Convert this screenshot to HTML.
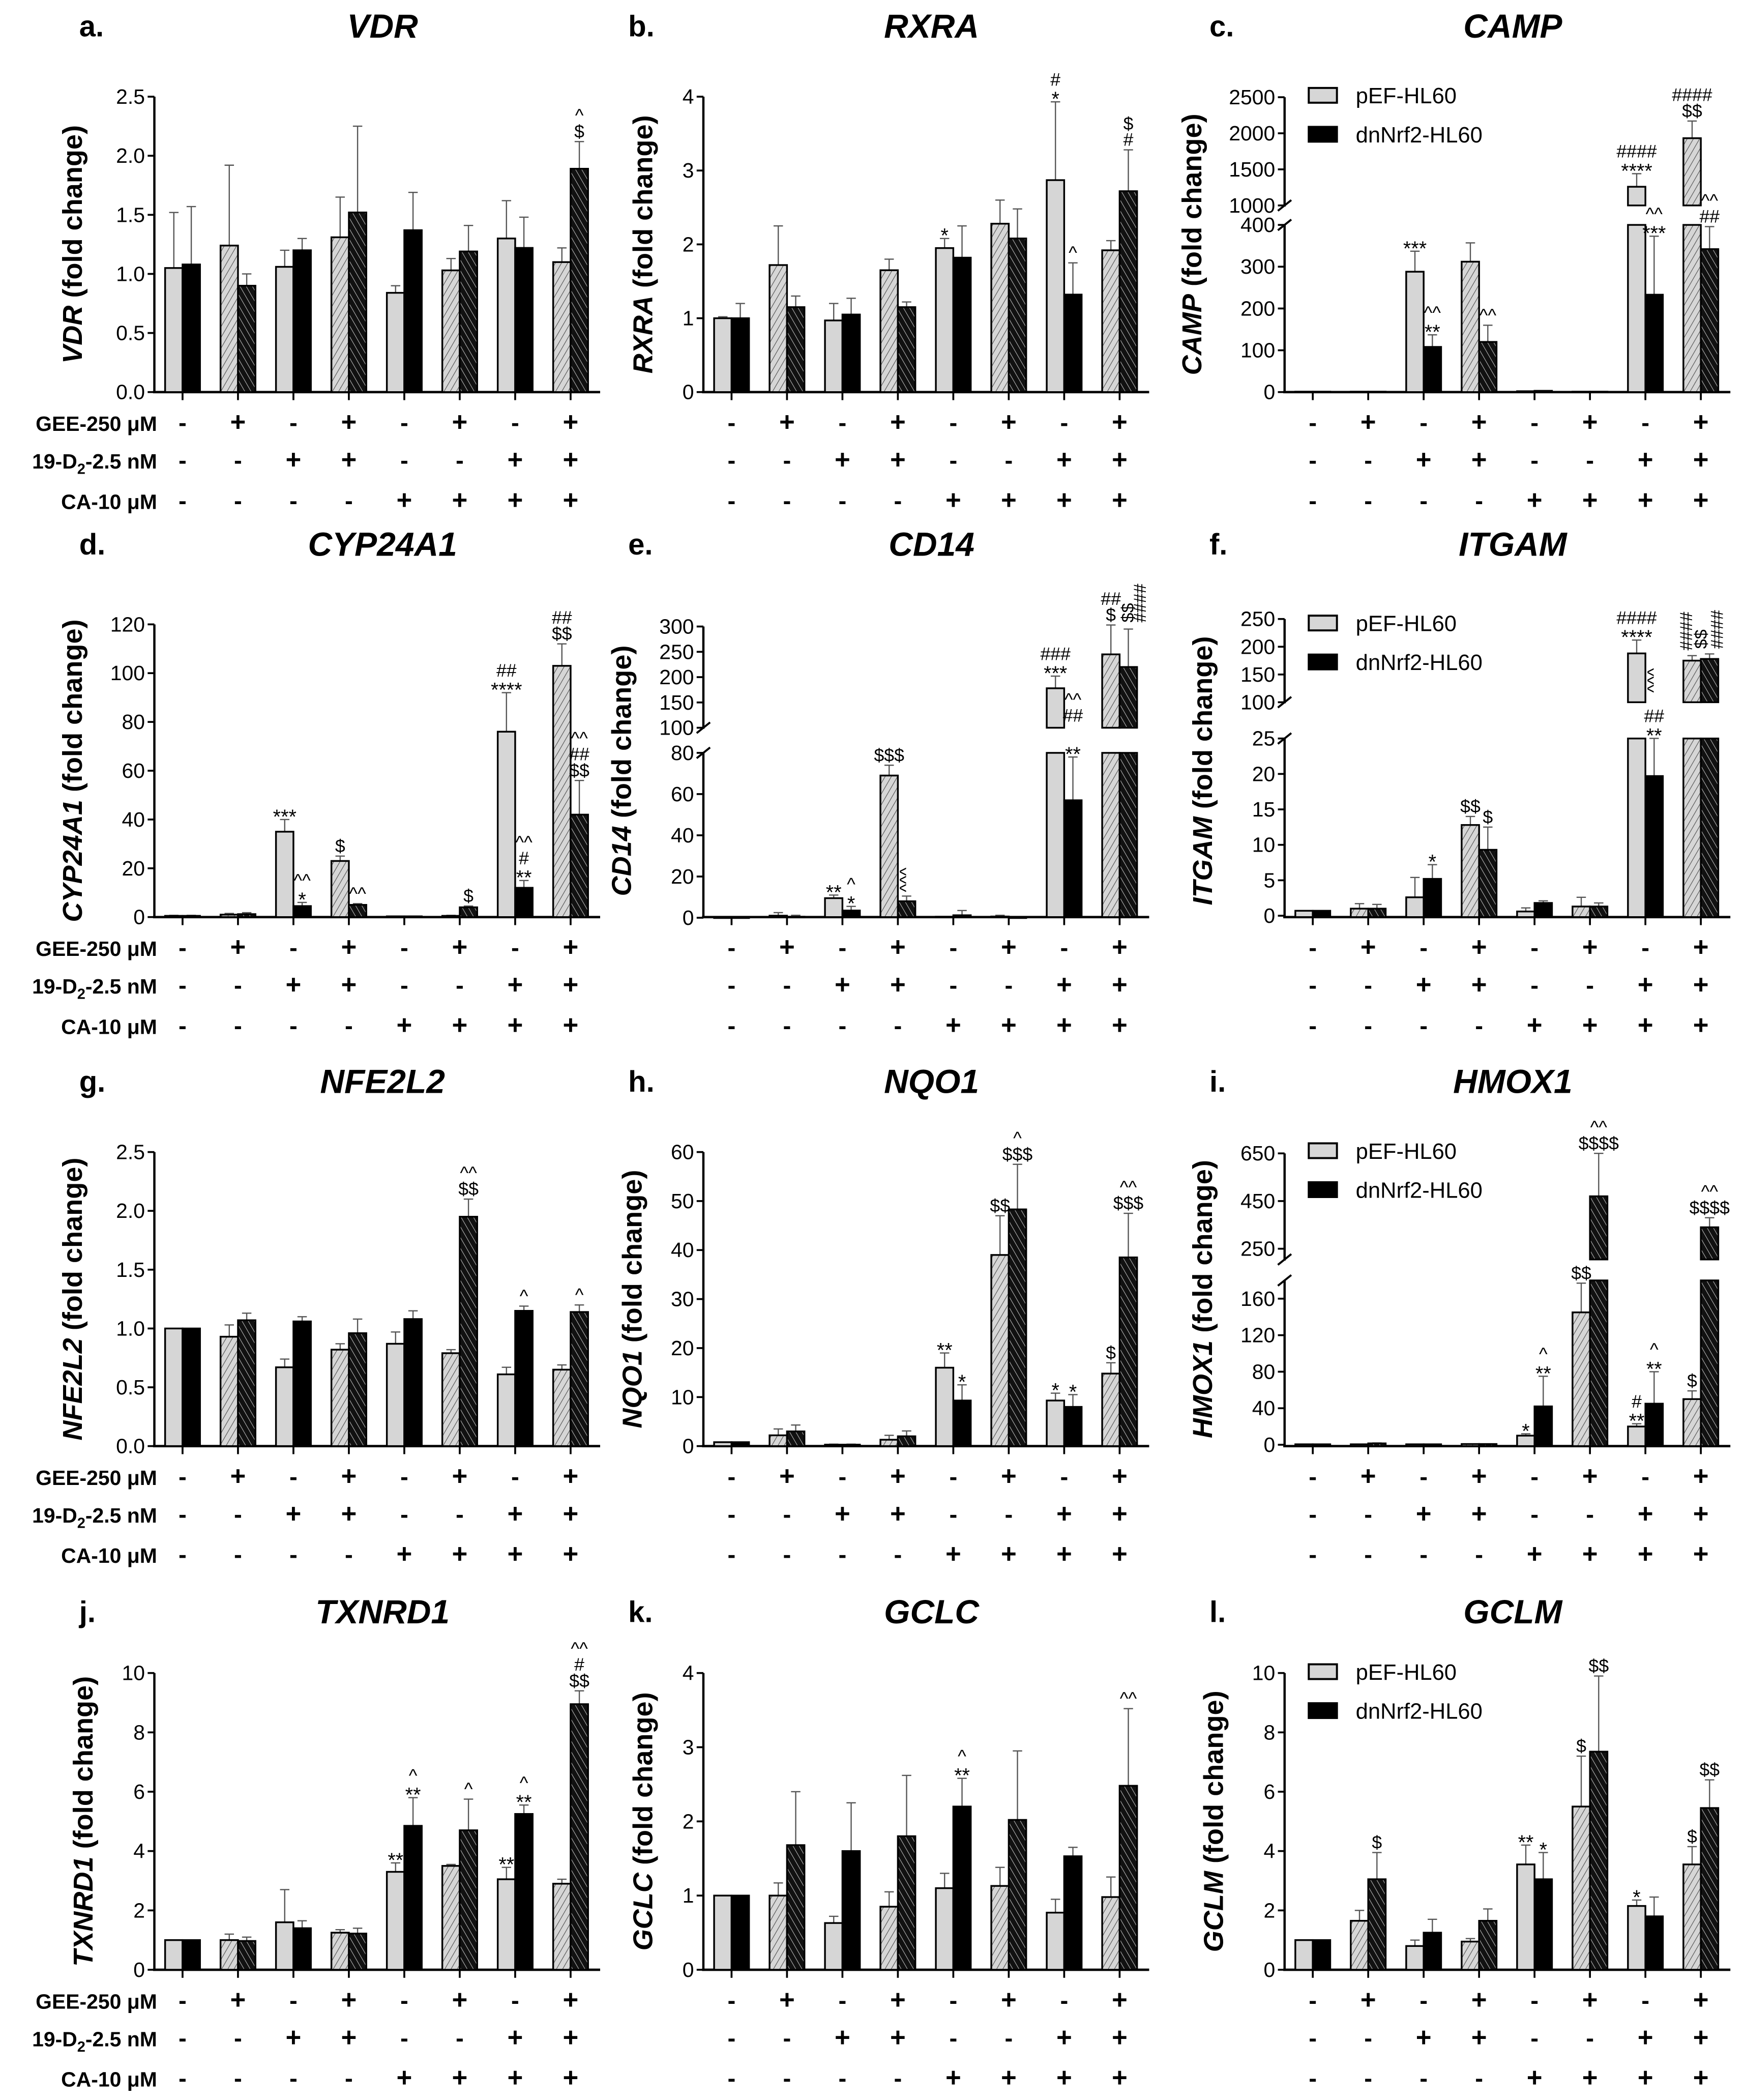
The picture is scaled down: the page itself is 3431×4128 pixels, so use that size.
<!DOCTYPE html>
<html><head><meta charset="utf-8"><title>Gene expression panels</title>
<style>
html,body{margin:0;padding:0;background:#fff;}
svg{display:block;}
text{font-family:"Liberation Sans",Arial,sans-serif;}
</style></head>
<body>
<svg id="fig" xmlns="http://www.w3.org/2000/svg" width="3431" height="4128" viewBox="0 0 1300 1564" preserveAspectRatio="none">
<defs>
<pattern id="hatchGray" patternUnits="userSpaceOnUse" width="4" height="4" patternTransform="rotate(30)">
<rect width="4" height="4" fill="#d6d6d6"/><line x1="0" y1="0" x2="0" y2="4" stroke="#555" stroke-width="0.9"/>
</pattern>
<pattern id="hatchBlack" patternUnits="userSpaceOnUse" width="4" height="4" patternTransform="rotate(-30)">
<rect width="4" height="4" fill="#111"/><line x1="0" y1="0" x2="0" y2="4" stroke="#bbb" stroke-width="0.8"/>
</pattern>
</defs>
<g id="root"></g>
</svg>
<script>
// ---- treatments ----
const geeSigns=["-","+","-","+","-","+","-","+"];
const d2Signs=["-","-","+","+","-","-","+","+"];
const caSigns=["-","-","-","-","+","+","+","+"];
const seriesNames=["pEF-HL60","dnNrf2-HL60"];

// ---- a VDR ----
const vdrGray=[1.05,1.24,1.06,1.31,0.84,1.03,1.30,1.10];
const vdrGrayErr=[1.52,1.92,1.20,1.65,0.90,1.13,1.62,1.22];
const vdrBlack=[1.08,0.90,1.20,1.52,1.37,1.19,1.22,1.89];
const vdrBlackErr=[1.57,1.00,1.30,2.25,1.69,1.41,1.48,2.12];
const vdrTicks=[0,0.5,1,1.5,2,2.5];
const vdrTickLabels=["0.0","0.5","1.0","1.5","2.0","2.5"];
// ---- b RXRA ----
const rxraGray=[1.0,1.72,0.97,1.65,1.95,2.28,2.87,1.92];
const rxraGrayErr=[1.02,2.25,1.2,1.8,2.08,2.6,3.93,2.05];
const rxraBlack=[1.0,1.15,1.05,1.15,1.82,2.08,1.32,2.72];
const rxraBlackErr=[1.2,1.3,1.27,1.22,2.25,2.48,1.75,3.28];
const rxraTicks=[0,1,2,3,4];
const rxraTickLabels=["0","1","2","3","4"];
// ---- c CAMP ----
const campGray=[1,1,288,312,2,1,1259,1932];
const campGrayErr=[1,1,337,357,2,1,1440,2170];
const campBlack=[1,1,108,120,3,1,233,342];
const campBlackErr=[1,1,137,160,3,1,373,396];
const campTicks=[0,100,200,300,400,1000,1500,2000,2500];
const campTickLabels=["0","100","200","300","400","1000","1500","2000","2500"];
// ---- d CYP24A1 ----
const cypGray=[0.5,1,35,23,0.3,0.5,76,103];
const cypGrayErr=[0.7,1.5,40,25,0.4,0.7,92,112];
const cypBlack=[0.5,1.2,4.5,5,0.3,4,12,42];
const cypBlackErr=[0.7,1.8,6,5.5,0.4,4.5,15,56];
const cypTicks=[0,20,40,60,80,100,120];
const cypTickLabels=["0","20","40","60","80","100","120"];
// ---- e CD14 ----
const cd14Gray=[0.2,1,9.5,69,0.5,0.6,178,245];
const cd14GrayErr=[0.2,2.5,11,74,0.5,1.2,202,303];
const cd14Black=[0.2,0.5,3.5,8,1.2,0.2,57,220];
const cd14BlackErr=[0.2,1.2,5.5,10.5,3.5,0.2,78,295];
const cd14Ticks=[0,20,40,60,80,100,150,200,250,300];
const cd14TickLabels=["0","20","40","60","80","100","150","200","250","300"];
// ---- f ITGAM ----
const itgGray=[0.7,1,2.6,12.8,0.6,1.3,188,175];
const itgGrayErr=[0.7,1.7,5.4,14,1.1,2.6,212,184];
const itgBlack=[0.7,1,5.2,9.3,1.8,1.3,19.7,178];
const itgBlackErr=[0.7,1.6,7.2,12.5,2.1,1.8,25.3,187];
const itgTicks=[0,5,10,15,20,25,100,150,200,250];
const itgTickLabels=["0","5","10","15","20","25","100","150","200","250"];
// ---- g NFE2L2 ----
const nfeGray=[1.0,0.93,0.67,0.82,0.87,0.79,0.61,0.65];
const nfeGrayErr=[1.0,1.03,0.74,0.87,0.97,0.82,0.67,0.69];
const nfeBlack=[1.0,1.07,1.06,0.96,1.08,1.95,1.15,1.14];
const nfeBlackErr=[1.0,1.13,1.1,1.08,1.15,2.1,1.19,1.2];
const nfeTicks=[0,0.5,1,1.5,2,2.5];
const nfeTickLabels=["0.0","0.5","1.0","1.5","2.0","2.5"];
// ---- h NQO1 ----
const nqoGray=[0.8,2.2,0.3,1.3,16,39,9.3,14.8];
const nqoGrayErr=[0.8,3.5,0.4,2.2,19,47,10.8,17];
const nqoBlack=[0.8,3,0.3,2,9.3,48.3,8,38.5];
const nqoBlackErr=[0.8,4.3,0.4,3.1,12.5,57.5,10.5,47.5];
const nqoTicks=[0,10,20,30,40,50,60];
const nqoTickLabels=["0","10","20","30","40","50","60"];
// ---- i HMOX1 ----
const hmoGray=[0.5,0.5,0.5,0.8,10,145,20,50];
const hmoGrayErr=[0.5,0.5,0.5,0.8,12,177,23,59];
const hmoBlack=[0.5,1.5,0.5,0.8,42,470,45,340];
const hmoBlackErr=[0.5,2,0.5,0.8,75,650,80,380];
const hmoTicks=[0,40,80,120,160,250,450,650];
const hmoTickLabels=["0","40","80","120","160","250","450","650"];
// ---- j TXNRD1 ----
const txnGray=[1,1.0,1.6,1.25,3.3,3.5,3.05,2.9];
const txnGrayErr=[1,1.2,2.7,1.35,3.6,3.55,3.45,3.05];
const txnBlack=[1,0.97,1.4,1.22,4.85,4.7,5.25,8.95];
const txnBlackErr=[1,1.1,1.65,1.4,5.8,5.75,5.55,9.4];
const txnTicks=[0,2,4,6,8,10];
const txnTickLabels=["0","2","4","6","8","10"];
// ---- k GCLC ----
const gclcGray=[1,1.0,0.63,0.85,1.1,1.13,0.77,0.98];
const gclcGrayErr=[1,1.17,0.72,1.05,1.3,1.38,0.95,1.25];
const gclcBlack=[1,1.68,1.6,1.8,2.2,2.02,1.53,2.48];
const gclcBlackErr=[1,2.4,2.25,2.62,2.58,2.95,1.65,3.52];
const gclcTicks=[0,1,2,3,4];
const gclcTickLabels=["0","1","2","3","4"];
// ---- l GCLM ----
const gclmGray=[1,1.65,0.8,0.95,3.55,5.5,2.15,3.55];
const gclmGrayErr=[1,2.0,1.0,1.05,4.2,7.2,2.35,4.15];
const gclmBlack=[1,3.05,1.25,1.65,3.05,7.35,1.8,5.45];
const gclmBlackErr=[1,3.95,1.7,2.05,3.95,9.9,2.45,6.4];
const gclmTicks=[0,2,4,6,8,10];
const gclmTickLabels=["0","2","4","6","8","10"];

// ---- layout (viewBox units) ----
const AX=[115,524,957];
const BOT=[292,683,1077,1467];
const TOP=[72,465,858,1246];
const TITLEY=[19,405,805,1200];
const STEP=41.3, BW=13;

const panels=[
 {letter:"a.",gene:"VDR",c:0,r:0,gray:vdrGray,ge:vdrGrayErr,black:vdrBlack,be:vdrBlackErr,ticks:vdrTicks,tl:vdrTickLabels,
  segs:[[0,2.5,BOT[0],TOP[0]]],ann:[[7,1,["$","^"]]]},
 {letter:"b.",gene:"RXRA",c:1,r:0,gray:rxraGray,ge:rxraGrayErr,black:rxraBlack,be:rxraBlackErr,ticks:rxraTicks,tl:rxraTickLabels,
  segs:[[0,4,BOT[0],TOP[0]]],ann:[[4,0,["*"]],[6,0,["*","#"]],[6,1,["^"]],[7,1,["#","$"]]]},
 {letter:"c.",gene:"CAMP",c:2,r:0,legend:true,gray:campGray,ge:campGrayErr,black:campBlack,be:campBlackErr,ticks:campTicks,tl:campTickLabels,
  segs:[[0,400,292,167.5],[1000,2500,153,72.4]],ann:[[2,0,["***"]],[2,1,["**","^^"]],[3,1,["^^"]],[6,0,["****","####"]],[6,1,["***","^^"]],[7,0,["$$","####"]],[7,1,["##","^^"]]]},
 {letter:"d.",gene:"CYP24A1",c:0,r:1,gray:cypGray,ge:cypGrayErr,black:cypBlack,be:cypBlackErr,ticks:cypTicks,tl:cypTickLabels,
  segs:[[0,120,BOT[1],TOP[1]]],ann:[[2,0,["***"]],[2,1,["*","^^"]],[3,0,["$"]],[3,1,["^^"]],[5,1,["$"]],[6,0,["****","##"]],[6,1,["**","#","^^"]],[7,0,["$$","##"]],[7,1,["$$","##","^^"]]]},
 {letter:"e.",gene:"CD14",c:1,r:1,gray:cd14Gray,ge:cd14GrayErr,black:cd14Black,be:cd14BlackErr,ticks:cd14Ticks,tl:cd14TickLabels,
  segs:[[0,80,683.5,560.7],[100,300,542,466.6]],ann:[[2,0,["**"]],[2,1,["*","^"]],[3,0,["$$$"]],[3,1,["^^^"],0,true],[6,0,["***","###"]],[6,1,["**"]],[6,1,["##","^^"],104],[7,0,["$","##"]],[7,1,["$$"],300,true,0],[7,1,["####"],300,true,9]]},
 {letter:"f.",gene:"ITGAM",c:2,r:1,legend:true,gray:itgGray,ge:itgGrayErr,black:itgBlack,be:itgBlackErr,ticks:itgTicks,tl:itgTickLabels,
  segs:[[0,25,682,550],[100,250,523,461]],ann:[[2,1,["*"]],[3,0,["$$"]],[3,1,["$"]],[6,0,["****","####"]],[6,1,["**","##"]],[6,1,["^^^"],110,true],[7,0,["####"],186,true,-4],[7,1,["$$"],189,true,-6],[7,1,["####"],189,true,6]]},
 {letter:"g.",gene:"NFE2L2",c:0,r:2,gray:nfeGray,ge:nfeGrayErr,black:nfeBlack,be:nfeBlackErr,ticks:nfeTicks,tl:nfeTickLabels,
  segs:[[0,2.5,BOT[2],TOP[2]]],ann:[[5,1,["$$","^^"]],[6,1,["^"]],[7,1,["^"]]]},
 {letter:"h.",gene:"NQO1",c:1,r:2,gray:nqoGray,ge:nqoGrayErr,black:nqoBlack,be:nqoBlackErr,ticks:nqoTicks,tl:nqoTickLabels,
  segs:[[0,60,BOT[2],TOP[2]]],ann:[[4,0,["**"]],[4,1,["*"]],[5,0,["$$"]],[5,1,["$$$","^"]],[6,0,["*"]],[6,1,["*"]],[7,0,["$"]],[7,1,["$$$","^^"]]]},
 {letter:"i.",gene:"HMOX1",c:2,r:2,legend:true,gray:hmoGray,ge:hmoGrayErr,black:hmoBlack,be:hmoBlackErr,ticks:hmoTicks,tl:hmoTickLabels,
  segs:[[0,180,1076,953.6],[205,650,938,859]],ann:[[4,0,["*"]],[4,1,["**","^"]],[5,0,["$$"]],[5,1,["$$$$","^^"]],[6,0,["**","#"]],[6,1,["**","^"]],[7,0,["$"]],[7,1,["$$$$","^^"]]]},
 {letter:"j.",gene:"TXNRD1",c:0,r:3,gray:txnGray,ge:txnGrayErr,black:txnBlack,be:txnBlackErr,ticks:txnTicks,tl:txnTickLabels,
  segs:[[0,10,BOT[3],TOP[3]]],ann:[[4,0,["**"]],[4,1,["**","^"]],[5,1,["^"]],[6,0,["**"]],[6,1,["**","^"]],[7,1,["$$","#","^^"]]]},
 {letter:"k.",gene:"GCLC",c:1,r:3,gray:gclcGray,ge:gclcGrayErr,black:gclcBlack,be:gclcBlackErr,ticks:gclcTicks,tl:gclcTickLabels,
  segs:[[0,4,BOT[3],TOP[3]]],ann:[[4,1,["**","^"]],[7,1,["^^"]]]},
 {letter:"l.",gene:"GCLM",c:2,r:3,legend:true,gray:gclmGray,ge:gclmGrayErr,black:gclmBlack,be:gclmBlackErr,ticks:gclmTicks,tl:gclmTickLabels,
  segs:[[0,10,BOT[3],TOP[3]]],ann:[[1,1,["$"]],[4,0,["**"]],[4,1,["*"]],[5,0,["$"]],[5,1,["$$"]],[6,0,["*"]],[7,0,["$"]],[7,1,["$$"]]]}
];

const NS="http://www.w3.org/2000/svg";
const root=document.getElementById("root");
function mk(tag,attrs,parent,txt){
 const e=document.createElementNS(NS,tag);
 for(const k in attrs) e.setAttribute(k,attrs[k]);
 if(txt!==undefined) e.textContent=txt;
 (parent||root).appendChild(e); return e;
}
function yMap(p,v){
 const s=p.segs;
 if(v<=s[0][0]) return s[0][2];
 for(let i=0;i<s.length;i++){
  const [d0,d1,p0,p1]=s[i];
  if(v>=d0&&v<=d1) return p0+(v-d0)/(d1-d0)*(p1-p0);
  if(i+1<s.length&&v>d1&&v<s[i+1][0]){
   const n=s[i+1]; return p1+(v-d1)/(n[0]-d1)*(n[2]-p1);
  }
 }
 const L=s[s.length-1]; return L[2]+(v-L[0])/(L[1]-L[0])*(L[3]-L[2]);
}
function gxOf(p,i){return AX[p.c]+21+STEP*i;}

panels.forEach(p=>{
 const g=mk("g",{});
 
 
 const ax=AX[p.c], bot=BOT[p.r];
 const lt=mk("text",{x:ax-56,y:TITLEY[p.r]+8,"font-size":22,"font-weight":"bold"},g,p.letter);
 
 
 const tt=mk("text",{x:ax+170,y:TITLEY[p.r]+9,"font-size":25,"font-weight":"bold","font-style":"italic","text-anchor":"middle"},g,p.gene);
 
 
 const maxc=Math.max(...p.tl.map(s=>s.length));
 const lx=ax-30-8*maxc, ly=(bot+TOP[p.r])/2;
 const yl=mk("text",{x:lx,y:ly,"font-size":20.5,"font-weight":"bold","text-anchor":"middle",transform:`rotate(-90 ${lx} ${ly})`},g);
 
 
 mk("tspan",{"font-style":"italic"},yl,p.gene);
 mk("tspan",{},yl," (fold change)");
 p.segs.forEach((s,i)=>{
  const yA=i===0?bot:s[2], yB=s[3];
  const l=mk("line",{x1:ax,y1:yA+0.8,x2:ax,y2:yB,stroke:"#000","stroke-width":1.7},g);
  
  
  if(i>0){
   mk("line",{x1:ax-5,y1:s[2]+4,x2:ax+5,y2:s[2]-4,stroke:"#000","stroke-width":1.5},g);
   const pr=p.segs[i-1];
   mk("line",{x1:ax-5,y1:pr[3]+4,x2:ax+5,y2:pr[3]-4,stroke:"#000","stroke-width":1.5},g);
  }
 });
 p.ticks.forEach((t,i)=>{
  const y=yMap(p,t);
  mk("line",{x1:ax-5,y1:y,x2:ax,y2:y,stroke:"#000","stroke-width":1.4},g);
  const tx=mk("text",{x:ax-7,y:y+5.3,"font-size":15.5,"text-anchor":"end"},g,p.tl[i]);
  
  
 });
 const xend=gxOf(p,7)+22;
 const xl=mk("line",{x1:ax-1,y1:bot,x2:xend,y2:bot,stroke:"#000","stroke-width":1.8},g);
 
 
 for(let i=0;i<8;i++){
  const gx=gxOf(p,i), hat=geeSigns[i]==="+";
  mk("line",{x1:gx,y1:bot,x2:gx,y2:bot+6,stroke:"#000","stroke-width":1.4},g);
  [[p.gray,p.ge,gx-BW,hat?"url(#hatchGray)":"#d6d6d6"],[p.black,p.be,gx,hat?"url(#hatchBlack)":"#000"]].forEach((sr,si)=>{
   const v=sr[0][i], e=sr[1][i], x=sr[2];
   const ye=yMap(p,e), yv=yMap(p,v);
   if(e>v){
    mk("line",{x1:x+BW/2,y1:yv,x2:x+BW/2,y2:ye,stroke:"#555","stroke-width":0.9},g);
    mk("line",{x1:x+BW/2-3.5,y1:ye,x2:x+BW/2+3.5,y2:ye,stroke:"#555","stroke-width":0.9},g);
   }
   p.segs.forEach((s,k)=>{
    const lo=k===0?0:s[0], hi=Math.min(v,s[1]);
    if(hi>lo){
     const y0=k===0?bot:s[2], y1=yMap(p,hi);
     const r=mk("rect",{x:x,y:y1,width:BW,height:Math.max(0.5,y0-y1),fill:sr[3],stroke:"#000","stroke-width":1.3},g);
     
     
    }
   });
  });
  [geeSigns,d2Signs,caSigns].forEach((arr,k)=>{
   const off=[23,51,81][k];
   const st=mk("text",{x:gx,y:bot+off+6,"font-size":arr[i]==="+"?20:18,"font-weight":"bold","text-anchor":"middle"},g,arr[i]);
   
   
  });
 }
 p.ann.forEach(a=>{
  const [gi,si,lines,base,rot,dx]=a;
  const x=gxOf(p,gi)+(si===0?-BW/2:BW/2)+(dx||0);
  const arrs=si===0?[p.gray,p.ge]:[p.black,p.be];
  const bv=base!==undefined&&base!==0?base:Math.max(arrs[0][gi],arrs[1][gi]);
  let y=yMap(p,bv)-3;
  if(rot){
   const t=mk("text",{x:x+4,y:y,"font-size":13,"text-anchor":"start",transform:`rotate(-90 ${x+4} ${y})`},g,lines.join(""));
   
   
   return;
  }
  lines.forEach((ln,k)=>{
   const isStar=ln[0]==="*";
   const t=mk("text",{x:x,y:y+(isStar?6:0),"font-size":isStar?15:13.5,"text-anchor":"middle"},g,ln);
   
   
   y-=isStar?9:12;
  });
 });
 if(p.legend){
  const ty=TOP[p.r];
  const ys=[ty-1,ty+28];
  [["#d6d6d6"],["#000"]].forEach((c,k)=>{
   const lg=mk("g",{},g);
   
   
   mk("rect",{x:ax+18,y:ys[k]-5.5,width:21,height:11,fill:c[0],stroke:"#000","stroke-width":1.5},lg);
   mk("text",{x:ax+53,y:ys[k]+6,"font-size":16.5},lg,seriesNames[k]);
  });
 }
});
[0,1,2,3].forEach(r=>{
 const bot=BOT[r];
 [23,51,81].forEach((off,k)=>{
  const t=mk("text",{x:117,y:bot+off+6,"font-size":15.5,"font-weight":"bold","text-anchor":"end"});
  
  
  if(k===1){
   mk("tspan",{},t,"19-D");
   mk("tspan",{"font-size":11,dy:4},t,"2");
   mk("tspan",{dy:-4},t,"-2.5 nM");
  } else t.textContent=k===0?"GEE-250 μM":"CA-10 μM";
 });
});
</script>
</body></html>
